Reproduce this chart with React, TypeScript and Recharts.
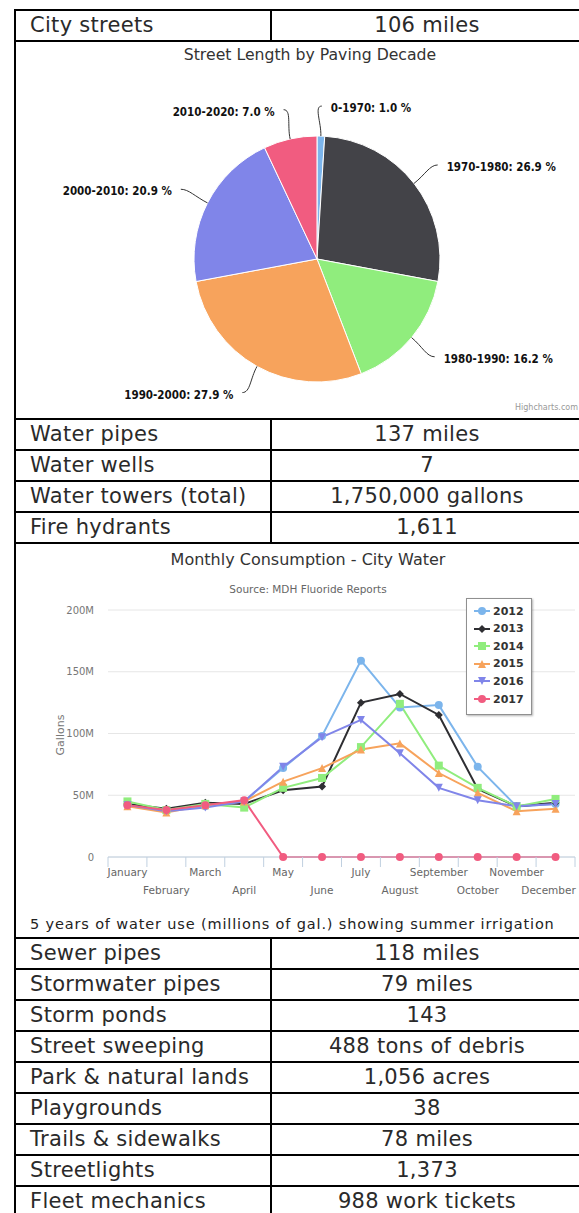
import React from "react";
import { PieChart, Pie, Cell, LineChart, Line, XAxis, YAxis, CartesianGrid } from "recharts";

// table rows
const TOP_ROWS = [["City streets", "106 miles"]];
const WATER_ROWS = [
  ["Water pipes", "137 miles"],
  ["Water wells", "7"],
  ["Water towers (total)", "1,750,000 gallons"],
  ["Fire hydrants", "1,611"],
];
const OTHER_ROWS = [
  ["Sewer pipes", "118 miles"],
  ["Stormwater pipes", "79 miles"],
  ["Storm ponds", "143"],
  ["Street sweeping", "488 tons of debris"],
  ["Park & natural lands", "1,056 acres"],
  ["Playgrounds", "38"],
  ["Trails & sidewalks", "78 miles"],
  ["Streetlights", "1,373"],
  ["Fleet mechanics", "988 work tickets"],
];

// pie
const PIE_NAMES = ["0-1970", "1970-1980", "1980-1990", "1990-2000", "2000-2010", "2010-2020"];
const PIE_VALUES = [1.0, 26.9, 16.2, 27.9, 20.9, 7.0];
const PIE_COLORS = ["#7cb5ec", "#434348", "#90ed7d", "#f7a35c", "#8085e9", "#f15c80"];

// monthly water use, millions of gallons
const MONTHS = ["January", "February", "March", "April", "May", "June", "July", "August", "September", "October", "November", "December"];
const YEARS = ["2012", "2013", "2014", "2015", "2016", "2017"];
const USE_2012 = [42, 38, 41, 45, 72, 98, 159, 121, 123, 73, 41, 43];
const USE_2013 = [43, 39, 44, 43, 54, 57, 125, 132, 115, 55, 41, 44];
const USE_2014 = [45, 38, 43, 40, 56, 64, 89, 124, 74, 56, 41, 47];
const USE_2015 = [41, 36, 42, 45, 61, 72, 87, 92, 68, 52, 37, 39];
const USE_2016 = [42, 37, 40, 45, 73, 97, 111, 84, 56, 46, 41, 43];
const USE_2017 = [42, 38, 42, 46, 0, 0, 0, 0, 0, 0, 0, 0];
const SERIES = [USE_2012, USE_2013, USE_2014, USE_2015, USE_2016, USE_2017];
const SERIES_COLORS = ["#7cb5ec", "#2e2e32", "#90ed7d", "#f7a35c", "#8085e9", "#f15c80"];
const SERIES_MARKERS = ["circle", "diamond", "square", "triangle", "triangle-down", "circle"];
const Y_TICKS = [0, 50, 100, 150, 200];

const FONT = "'DejaVu Sans', Verdana, sans-serif";
const LABEL_FONT = "'DejaVu Sans Condensed', 'DejaVu Sans', sans-serif";
const RAD = Math.PI / 180;

const LC_W = 563;
const LC_LEFT = 92;
const LC_RIGHT = 4;
const BAND = (LC_W - LC_LEFT - LC_RIGHT) / MONTHS.length;

const pieData = PIE_NAMES.map((name, i) => ({ name, value: PIE_VALUES[i] }));
const lineData = MONTHS.map((month, i) => {
  const row: any = { month };
  YEARS.forEach((y, s) => (row["y" + y] = SERIES[s][i]));
  return row;
});

function marker(kind: string, cx: number, cy: number, color: string, r = 4) {
  switch (kind) {
    case "square":
      return <rect x={cx - r} y={cy - r} width={2 * r} height={2 * r} fill={color} />;
    case "diamond":
      return <path d={`M${cx} ${cy - r}L${cx + r} ${cy}L${cx} ${cy + r}L${cx - r} ${cy}Z`} fill={color} />;
    case "triangle":
      return <path d={`M${cx} ${cy - r}L${cx + r} ${cy + r}L${cx - r} ${cy + r}Z`} fill={color} />;
    case "triangle-down":
      return <path d={`M${cx - r} ${cy - r}L${cx + r} ${cy - r}L${cx} ${cy + r}Z`} fill={color} />;
    default:
      return <circle cx={cx} cy={cy} r={r} fill={color} />;
  }
}

function PieLabel(props: any) {
  const { cx, cy, midAngle, outerRadius, name, value } = props;
  const c = Math.cos(-midAngle * RAD);
  const s = Math.sin(-midAngle * RAD);
  const ex = cx + outerRadius * c, ey = cy + outerRadius * s;
  const mx = cx + (outerRadius + 14) * c, my = cy + (outerRadius + 14) * s;
  const ax = cx + (outerRadius + 30) * c, ay = cy + (outerRadius + 30) * s;
  const dir = c >= 0 ? 1 : -1;
  return (
    <g>
      <path
        d={`M${ax} ${ay}C${ax - dir * 8} ${ay} ${mx} ${my} ${ex} ${ey}`}
        stroke="#333"
        strokeWidth={1}
        fill="none"
      />
      <text
        x={ax + dir * 9}
        y={ay + 2}
        textAnchor={dir > 0 ? "start" : "end"}
        dominantBaseline="central"
        fontFamily={LABEL_FONT}
        fontSize={11.5}
        fontWeight="bold"
        fill="#111"
      >
        {`${name}: ${value.toFixed(1)} %`}
      </text>
    </g>
  );
}

function MonthTick(props: any) {
  const { x, y, payload, index } = props;
  const dy = index % 2 === 0 ? 15 : 33;
  const last = index === MONTHS.length - 1;
  // highcharts pulls the edge label back inside the plot
  const shift = last ? -7 : 0;
  return (
    <g>
      <line x1={x - BAND / 2} y1={y} x2={x - BAND / 2} y2={y + 10} stroke="#C0D0E0" />
      {last && <line x1={x + BAND / 2} y1={y} x2={x + BAND / 2} y2={y + 10} stroke="#C0D0E0" />}
      <text
        x={x + shift}
        y={y + dy}
        textAnchor="middle"
        dominantBaseline="central"
        fontFamily={FONT}
        fontSize={10.5}
        fill="#666"
      >
        {payload.value}
      </text>
    </g>
  );
}

function Row({ top, label, value }: { top: number; label: string; value: string }) {
  return (
    <div
      style={{
        position: "absolute",
        left: 14,
        top,
        width: 570,
        height: 31,
        borderTop: "2px solid #000",
        borderLeft: "2px solid #000",
        boxSizing: "border-box",
        fontSize: 21,
        letterSpacing: 0.3,
        color: "#2a2a2a",
        lineHeight: "29px",
      }}
    >
      <div style={{ position: "absolute", left: 14, top: 0, whiteSpace: "nowrap" }}>{label}</div>
      <div
        style={{
          position: "absolute",
          left: 254,
          top: 0,
          width: 310,
          height: 29,
          borderLeft: "2px solid #000",
          textAlign: "center",
          whiteSpace: "nowrap",
        }}
      >
        {value}
      </div>
    </div>
  );
}

function Cell2({ top, height }: { top: number; height: number }) {
  return (
    <div
      style={{
        position: "absolute",
        left: 14,
        top,
        width: 570,
        height,
        borderTop: "2px solid #000",
        borderLeft: "2px solid #000",
        boxSizing: "border-box",
      }}
    />
  );
}

export default function App() {
  return (
    <div
      style={{
        position: "absolute",
        left: 0,
        top: 0,
        width: 579,
        height: 1213,
        overflow: "hidden",
        background: "#fff",
        fontFamily: FONT,
      }}
    >
      {TOP_ROWS.map((r, i) => (
        <Row key={r[0]} top={9 + i * 31} label={r[0]} value={r[1]} />
      ))}

      {/* pie cell */}
      <Cell2 top={40} height={378} />
      <div style={{ position: "absolute", left: 110, top: 45, width: 400, textAlign: "center", fontSize: 15.7, color: "#333" }}>
        Street Length by Paving Decade
      </div>
      <div style={{ position: "absolute", left: 16, top: 42 }}>
        <PieChart width={563} height={376}>
          <Pie
            data={pieData}
            dataKey="value"
            nameKey="name"
            cx={296}
            cy={212}
            outerRadius={123}
            startAngle={90}
            endAngle={-270}
            stroke="#fff"
            strokeWidth={1}
            label={PieLabel}
            labelLine={false}
            isAnimationActive={false}
          >
            {pieData.map((d, i) => (
              <Cell key={d.name} fill={PIE_COLORS[i]} />
            ))}
          </Pie>
        </PieChart>
      </div>
      <div style={{ position: "absolute", right: 1, top: 403, fontSize: 8, color: "#999", whiteSpace: "nowrap" }}>
        Highcharts.com
      </div>

      {WATER_ROWS.map((r, i) => (
        <Row key={r[0]} top={418 + i * 31} label={r[0]} value={r[1]} />
      ))}

      {/* line chart cell */}
      <Cell2 top={542} height={395} />
      <div style={{ position: "absolute", left: 108, top: 550, width: 400, textAlign: "center", fontSize: 16, color: "#333" }}>
        Monthly Consumption - City Water
      </div>
      <div style={{ position: "absolute", left: 108, top: 583, width: 400, textAlign: "center", fontSize: 10.5, color: "#666" }}>
        Source: MDH Fluoride Reports
      </div>
      <div
        style={{
          position: "absolute",
          left: 32,
          top: 727,
          width: 60,
          textAlign: "center",
          fontSize: 11,
          color: "#777",
          transform: "rotate(-90deg)",
          transformOrigin: "30px 8px",
        }}
      >
        Gallons
      </div>
      <div style={{ position: "absolute", left: 16, top: 542 }}>
        <LineChart width={LC_W} height={370} data={lineData} margin={{ top: 68, right: LC_RIGHT, bottom: 15, left: 0 }}>
          <CartesianGrid vertical={false} stroke="#e6e6e6" />
          <XAxis
            dataKey="month"
            height={40}
            interval={0}
            padding={{ left: BAND / 2, right: BAND / 2 }}
            tickSize={0}
            tickMargin={0}
            tickLine={false}
            axisLine={{ stroke: "#C0D0E0" }}
            tick={<MonthTick />}
          />
          <YAxis
            width={LC_LEFT}
            domain={[0, 200]}
            ticks={Y_TICKS}
            axisLine={false}
            tickLine={false}
            tickMargin={8}
            tick={{ fill: "#777", fontSize: 10, fontFamily: FONT }}
            tickFormatter={(v) => (v === 0 ? "0" : `${v}M`)}
          />
          {YEARS.map((yr, s) => (
            <Line
              key={yr}
              type="linear"
              dataKey={"y" + yr}
              name={yr}
              stroke={SERIES_COLORS[s]}
              strokeWidth={2}
              activeDot={false}
              isAnimationActive={false}
              dot={(p: any) => <g key={`${yr}-${p.index}`}>{marker(SERIES_MARKERS[s], p.cx, p.cy, SERIES_COLORS[s])}</g>}
            />
          ))}
        </LineChart>
      </div>
      {/* legend */}
      <div
        style={{
          position: "absolute",
          left: 466,
          top: 598,
          width: 66,
          height: 117,
          border: "1px solid #909090",
          boxSizing: "border-box",
          background: "#fff",
          boxShadow: "1px 1px 2px rgba(0,0,0,0.3)",
        }}
      >
        {YEARS.map((yr, s) => (
          <div key={yr} style={{ position: "absolute", left: 6, top: 3 + s * 17.6, height: 18, display: "flex", alignItems: "center" }}>
            <svg width={18} height={10}>
              <line x1={1} y1={5} x2={17} y2={5} stroke={SERIES_COLORS[s]} strokeWidth={2} />
              {marker(SERIES_MARKERS[s], 9, 5, SERIES_COLORS[s])}
            </svg>
            <span style={{ marginLeft: 2, fontSize: 11, fontWeight: "bold", color: "#333" }}>{yr}</span>
          </div>
        ))}
      </div>
      <div
        style={{
          position: "absolute",
          left: 30,
          top: 916,
          fontSize: 14.5,
          letterSpacing: 0.85,
          color: "#222",
          whiteSpace: "nowrap",
        }}
      >
        5 years of water use (millions of gal.) showing summer irrigation
      </div>

      {OTHER_ROWS.map((r, i) => (
        <Row key={r[0]} top={937 + i * 31} label={r[0]} value={r[1]} />
      ))}
    </div>
  );
}
